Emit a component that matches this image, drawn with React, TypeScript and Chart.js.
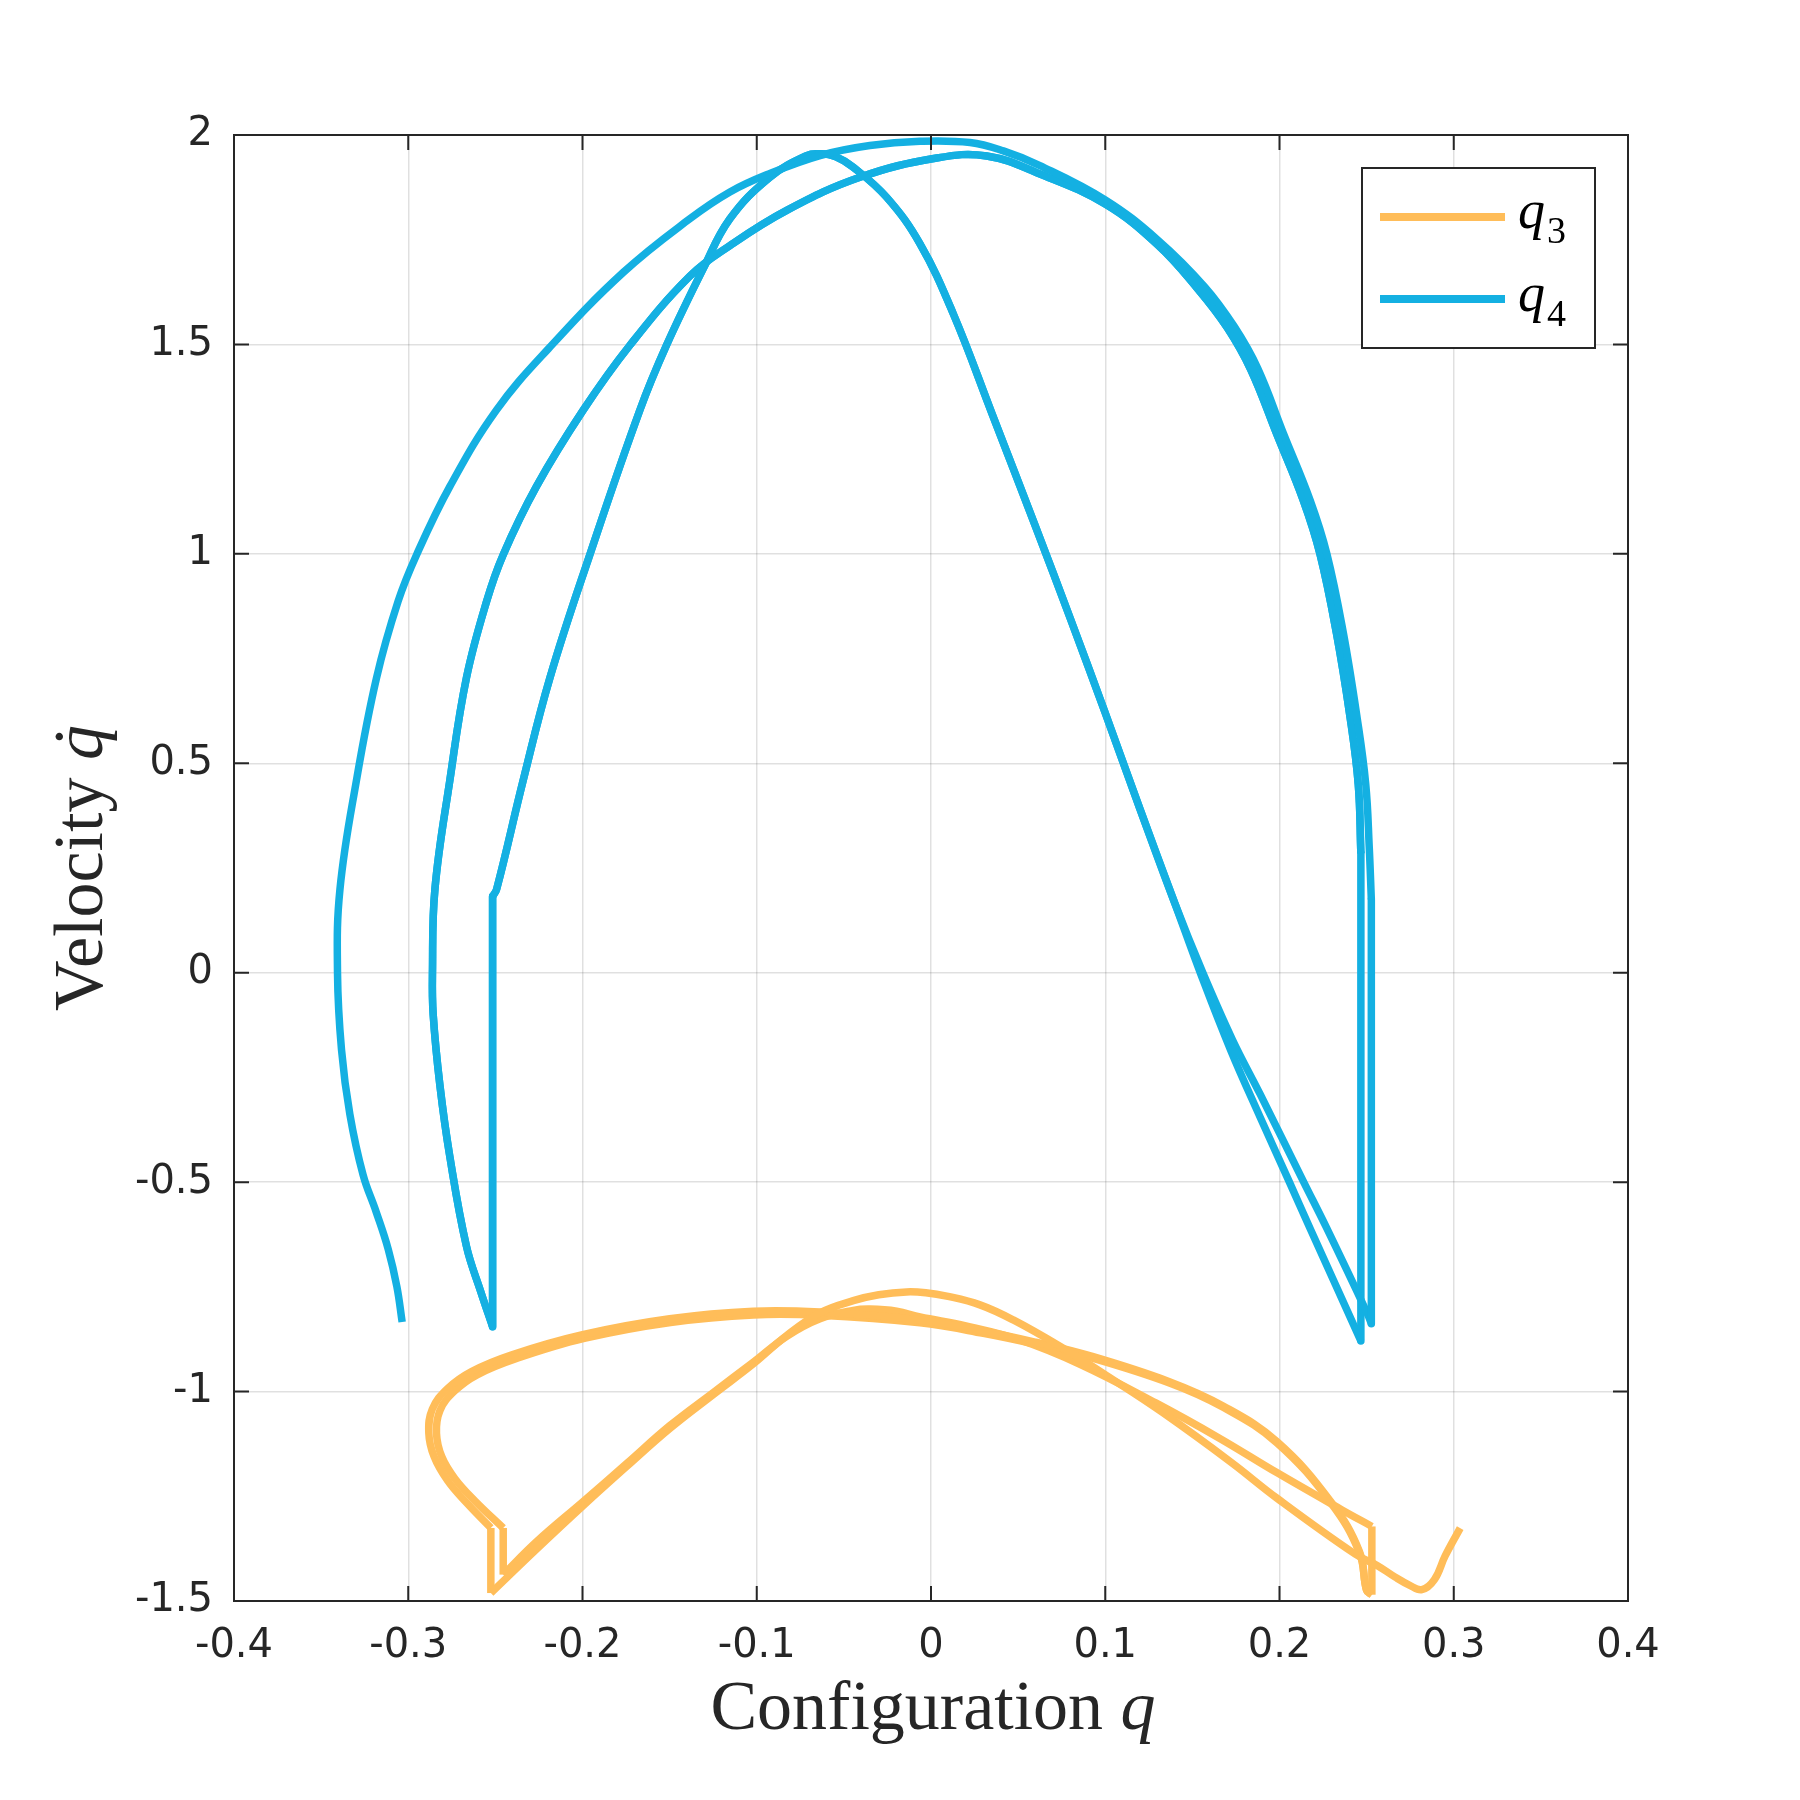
import React, { useEffect, useRef } from "react";
import Chart from "chart.js/auto";

type Pt = [number, number];

// ---- q3 (orange) pieces ----
const q3Transient: Pt[] = [
  [0.3037, -1.326], [0.295, -1.393], [0.2889, -1.449], [0.2817, -1.473],
  [0.2745, -1.462], [0.2664, -1.443], [0.256, -1.415], [0.2438, -1.389],
  [0.1987, -1.255], [0.172, -1.168], [0.1333, -1.051], [0.1046, -0.972],
  [0.074, -0.892], [0.0472, -0.829], [0.0281, -0.793], [0.009, -0.772],
  [-0.003, -0.764], [-0.014, -0.762], [-0.03, -0.769], [-0.0446, -0.783],
  [-0.0637, -0.812], [-0.0828, -0.866], [-0.102, -0.934], [-0.1249, -1.007],
  [-0.1498, -1.088], [-0.1747, -1.179], [-0.1995, -1.272], [-0.2263, -1.376],
  [-0.2526, -1.481],
];

const q3LoopA: Pt[] = [
  [-0.2526, -1.3256], [-0.266, -1.268], [-0.2775, -1.212], [-0.2852, -1.155],
  [-0.2882, -1.099], [-0.2862, -1.042], [-0.2775, -0.993], [-0.2637, -0.952],
  [-0.2405, -0.912], [-0.2, -0.864], [-0.15, -0.826], [-0.102, -0.808],
  [-0.0637, -0.81], [-0.0063, -0.829], [0.03, -0.855], [0.06, -0.882],
  [0.09, -0.913], [0.1372, -0.977], [0.1679, -1.035], [0.1987, -1.12],
  [0.2295, -1.263], [0.2459, -1.382], [0.25, -1.475], [0.253, -1.485],
];

const q3Diag: Pt[] = [
  [0.253, -1.322], [0.2356, -1.282], [0.1987, -1.194], [0.165, -1.11],
  [0.129, -1.027], [0.0855, -0.935], [0.0511, -0.877], [0.02, -0.843],
  [-0.0063, -0.822], [-0.0197, -0.808], [-0.035, -0.803], [-0.0446, -0.806],
  [-0.0637, -0.826], [-0.0828, -0.868], [-0.102, -0.93], [-0.1249, -1.002],
  [-0.1498, -1.081], [-0.1747, -1.172], [-0.1995, -1.262], [-0.2263, -1.358],
  [-0.2455, -1.437],
];

const q3LoopB: Pt[] = [
  [-0.2455, -1.3256], [-0.2615, -1.262], [-0.2732, -1.208], [-0.2808, -1.155],
  [-0.2838, -1.099], [-0.2818, -1.045], [-0.2735, -0.999], [-0.2605, -0.96],
  [-0.2378, -0.921], [-0.199, -0.873], [-0.1495, -0.835], [-0.102, -0.817],
  [-0.0637, -0.818], [-0.0063, -0.836], [0.03, -0.861], [0.06, -0.887],
  [0.09, -0.917], [0.1372, -0.98], [0.1679, -1.038], [0.1987, -1.123],
  [0.2295, -1.266], [0.2459, -1.385], [0.25, -1.475], [0.253, -1.485],
];

// ---- q4 (blue) pieces ----
const q4OuterArc: Pt[] = [
  [-0.3035, -0.834], [-0.3065, -0.75], [-0.3115, -0.66], [-0.3185, -0.57],
  [-0.3259, -0.483], [-0.3335, -0.338], [-0.3383, -0.184], [-0.3406, 0.0],
  [-0.3392, 0.199], [-0.3297, 0.46], [-0.3182, 0.704], [-0.3058, 0.887],
  [-0.2952, 0.998], [-0.2761, 1.161], [-0.2494, 1.343], [-0.2195, 1.49],
  [-0.1766, 1.672], [-0.1384, 1.8], [-0.1154, 1.864], [-0.0944, 1.905],
  [-0.0637, 1.951], [-0.0351, 1.975], [-0.0063, 1.985], [0.0224, 1.982],
  [0.0415, 1.962], [0.0625, 1.927], [0.1, 1.845], [0.13, 1.75],
  [0.157, 1.638], [0.174, 1.543], [0.1875, 1.443], [0.2023, 1.287],
  [0.2176, 1.128], [0.2272, 1.0], [0.2367, 0.81], [0.2445, 0.61],
  [0.2495, 0.45], [0.2515, 0.3], [0.2527, 0.175],
];

const q4MiddleArc: Pt[] = [
  [-0.2516, -0.845], [-0.2585, -0.76], [-0.2666, -0.653], [-0.2761, -0.44],
  [-0.2818, -0.27], [-0.2857, -0.099], [-0.2861, 0.0], [-0.2847, 0.199],
  [-0.2761, 0.46], [-0.2666, 0.704], [-0.255, 0.887], [-0.2455, 0.998],
  [-0.2264, 1.161], [-0.1996, 1.343], [-0.1728, 1.498], [-0.1384, 1.663],
  [-0.1154, 1.736], [-0.0828, 1.82], [-0.0408, 1.899], [0.0033, 1.945],
  [0.032, 1.95], [0.0625, 1.907], [0.1, 1.835], [0.13, 1.738],
  [0.153, 1.633], [0.17, 1.54], [0.1835, 1.44], [0.1983, 1.287],
  [0.2136, 1.128], [0.2232, 1.0], [0.2327, 0.81], [0.2405, 0.61],
  [0.2452, 0.45], [0.2467, 0.285],
];

const q4UpperTail: Pt[] = [
  [0.2527, -0.838], [0.2501, -0.811], [0.2271, -0.61], [0.2139, -0.5],
  [0.1889, -0.29], [0.173, -0.16], [0.156, 0.0],
];

const q4LowerTail: Pt[] = [
  [0.2467, -0.879], [0.2175, -0.61], [0.2057, -0.5], [0.1889, -0.345],
  [0.172, -0.185], [0.155, -0.005],
];

const q4DiagRise: Pt[] = [
  [0.14, 0.165], [0.12, 0.39], [0.1, 0.62], [0.08, 0.845],
  [0.06, 1.065], [0.035, 1.335], [0.0128, 1.573], [-0.0063, 1.74],
  [-0.0254, 1.851], [-0.0446, 1.923], [-0.0546, 1.948], [-0.0637, 1.955],
];

const q4DiagFall: Pt[] = [
  [-0.0714, 1.951], [-0.0925, 1.899], [-0.1154, 1.8], [-0.1307, 1.681],
  [-0.1518, 1.498], [-0.1671, 1.343], [-0.1958, 0.998], [-0.2187, 0.704],
  [-0.234, 0.46], [-0.2493, 0.199], [-0.2516, 0.182],
];

const xTickValues = [-0.4, -0.3, -0.2, -0.1, 0, 0.1, 0.2, 0.3, 0.4];
const xTickLabels = ["-0.4", "-0.3", "-0.2", "-0.1", "0", "0.1", "0.2", "0.3", "0.4"];
const yTickValues = [-1.5, -1, -0.5, 0, 0.5, 1, 1.5, 2];
const yTickLabels = ["-1.5", "-1", "-0.5", "0", "0.5", "1", "1.5", "2"];
const legendSubs = ["3", "4"];

const ORANGE = "rgb(255,189,89)";
const BLUE = "rgb(20,176,226)";
const INK = "#262626";
const SERIF = "'Liberation Serif', 'DejaVu Serif', serif";

// each step is a smooth swing phase; impacts are the straight jumps between them
const q3Steps: Pt[][] = [q3Transient, q3LoopA, q3Diag, q3LoopB];
const q4Steps: Pt[][] = [
  q4OuterArc,
  [...q4UpperTail, ...q4DiagRise, ...q4DiagFall],
  q4MiddleArc,
  [...q4LowerTail, ...q4DiagRise, ...q4DiagFall],
  q4MiddleArc,
];

const toXY = (pts: Pt[]) => pts.map(([x, y]) => ({ x, y }));

const buildDatasets = (steps: Pt[][], color: string, label: string) => {
  const base = {
    showLine: true,
    borderColor: color,
    backgroundColor: color,
    borderWidth: 7.5,
    pointRadius: 0,
    borderJoinStyle: "round" as const,
  };
  const out: any[] = [];
  steps.forEach((s, i) => {
    out.push({ ...base, label, data: toXY(s), tension: 0.4 });
    const next = steps[i + 1];
    if (next) {
      out.push({ ...base, label, data: toXY([s[s.length - 1], next[0]]), tension: 0 });
    }
  });
  return out;
};

// frame, inward ticks, axis titles and the legend, MATLAB style
const framePlugin = {
  id: "frame",
  afterDraw(chart: any) {
    const { ctx, chartArea: a, scales } = chart;
    ctx.save();
    ctx.strokeStyle = INK;
    ctx.lineWidth = 2;
    ctx.beginPath();
    xTickValues.forEach((v) => {
      const px = scales.x.getPixelForValue(v);
      ctx.moveTo(px, a.bottom);
      ctx.lineTo(px, a.bottom - 15);
      ctx.moveTo(px, a.top);
      ctx.lineTo(px, a.top + 15);
    });
    yTickValues.forEach((v) => {
      const py = scales.y.getPixelForValue(v);
      ctx.moveTo(a.left, py);
      ctx.lineTo(a.left + 15, py);
      ctx.moveTo(a.right, py);
      ctx.lineTo(a.right - 15, py);
    });
    ctx.stroke();
    ctx.strokeRect(a.left, a.top, a.right - a.left, a.bottom - a.top);

    // x title
    ctx.fillStyle = INK;
    ctx.textBaseline = "alphabetic";
    ctx.textAlign = "left";
    const normal = `70px ${SERIF}`;
    const italic = `italic 70px ${SERIF}`;
    ctx.font = normal;
    const w1 = ctx.measureText("Configuration ").width;
    ctx.font = italic;
    const w2 = ctx.measureText("q").width;
    let sx = 933 - (w1 + w2) / 2;
    ctx.font = normal;
    ctx.fillText("Configuration ", sx, 1729);
    ctx.font = italic;
    ctx.fillText("q", sx + w1, 1729);

    // y title
    ctx.save();
    ctx.translate(102, 868);
    ctx.rotate(-Math.PI / 2);
    ctx.font = normal;
    const v1 = ctx.measureText("Velocity ").width;
    ctx.font = italic;
    const v2 = ctx.measureText("q").width;
    sx = -(v1 + v2) / 2;
    ctx.font = normal;
    ctx.fillText("Velocity ", sx, 0);
    ctx.font = italic;
    ctx.fillText("q", sx + v1, 0);
    ctx.font = normal;
    ctx.textAlign = "center";
    ctx.fillText("\u02D9", sx + v1 + v2 / 2 + 6, 0);
    ctx.restore();

    // legend
    ctx.fillStyle = "#ffffff";
    ctx.fillRect(1362, 168, 233, 180);
    ctx.strokeStyle = INK;
    ctx.lineWidth = 2;
    ctx.strokeRect(1362, 168, 233, 180);
    const rows = [
      { color: ORANGE, line: 217, base: 228 },
      { color: BLUE, line: 299, base: 311 },
    ];
    rows.forEach((r, i) => {
      ctx.strokeStyle = r.color;
      ctx.lineWidth = 8;
      ctx.lineCap = "butt";
      ctx.beginPath();
      ctx.moveTo(1380, r.line);
      ctx.lineTo(1505, r.line);
      ctx.stroke();
      ctx.fillStyle = "#000000";
      ctx.textAlign = "left";
      ctx.font = `italic 54px ${SERIF}`;
      ctx.fillText("q", 1518, r.base);
      const qw = ctx.measureText("q").width;
      ctx.font = `38px ${SERIF}`;
      ctx.fillText(legendSubs[i], 1518 + qw + 2, r.base + 15);
    });
    ctx.restore();
  },
};

const App: React.FC = () => {
  const chartRef = useRef<HTMLCanvasElement | null>(null);
  const chartInstance = useRef<Chart | null>(null);

  useEffect(() => {
    document.body.style.margin = "0";
    if (!chartRef.current) return;
    if (chartInstance.current) chartInstance.current.destroy();

    const tickFont = { family: "'DejaVu Sans', sans-serif", size: 40 };
    const grid = { color: "rgba(0,0,0,0.12)", lineWidth: 1.5, drawTicks: false };

    chartInstance.current = new Chart(chartRef.current, {
      type: "scatter",
      data: {
        datasets: [
          ...buildDatasets(q3Steps, ORANGE, "q3"),
          ...buildDatasets(q4Steps, BLUE, "q4"),
        ],
      },
      options: {
        animation: false,
        responsive: false,
        devicePixelRatio: 1,
        layout: { padding: { top: 135, right: 172, left: 0, bottom: 0 } },
        plugins: {
          legend: { display: false },
          tooltip: { enabled: false },
        },
        scales: {
          x: {
            type: "linear",
            min: -0.4,
            max: 0.4,
            afterBuildTicks: (s: any) => {
              s.ticks = xTickValues.map((v) => ({ value: v }));
            },
            afterFit: (s: any) => {
              s.height = 199;
            },
            grid,
            border: { display: false },
            ticks: {
              callback: (_v: any, i: number) => xTickLabels[i],
              padding: 22,
              maxRotation: 0,
              autoSkip: false,
              color: INK,
              font: tickFont,
            },
          },
          y: {
            type: "linear",
            min: -1.5,
            max: 2,
            afterBuildTicks: (s: any) => {
              s.ticks = yTickValues.map((v) => ({ value: v }));
            },
            afterFit: (s: any) => {
              s.width = 234;
            },
            grid,
            border: { display: false },
            ticks: {
              callback: (_v: any, i: number) => yTickLabels[i],
              padding: 21,
              autoSkip: false,
              color: INK,
              font: tickFont,
            },
          },
        },
      },
      plugins: [framePlugin],
    });

    return () => {
      if (chartInstance.current) {
        chartInstance.current.destroy();
        chartInstance.current = null;
      }
    };
  }, []);

  return (
    <div style={{ width: 1800, height: 1800 }}>
      <canvas ref={chartRef} width={1800} height={1800} style={{ display: "block" }} />
    </div>
  );
};

export default App;
